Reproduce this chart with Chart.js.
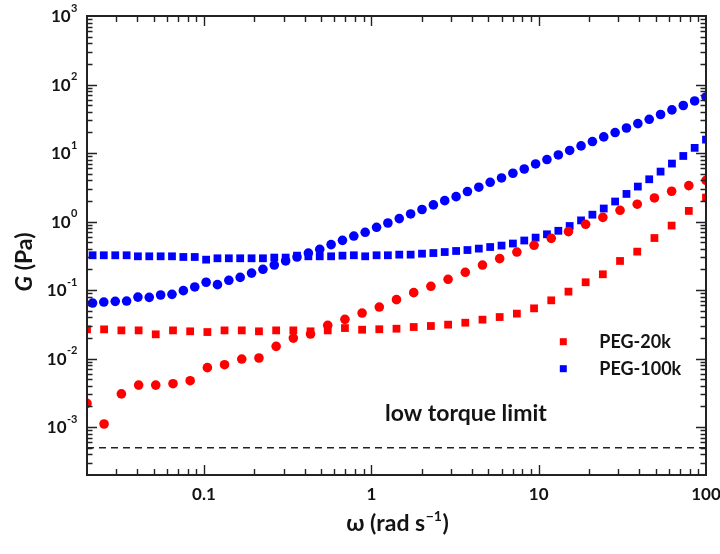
<!DOCTYPE html>
<html>
<head>
<meta charset="utf-8">
<title>PEG rheology</title>
<script src="https://cdn.jsdelivr.net/npm/chart.js@4.4.0/dist/chart.umd.min.js"></script>
<style>
  html, body { margin: 0; padding: 0; background: #fff; }
  #wrap { width: 720px; height: 554px; }
</style>
</head>
<body>
<div id="wrap"><canvas id="c" width="720" height="554"></canvas></div>
<script>
// Angular frequency sweeps (rad/s)
const omega20k = [0.0200, 0.0253, 0.0321, 0.0407, 0.0515, 0.0653, 0.0827, 0.1048, 0.1327, 0.1682,
  0.2131, 0.2700, 0.3420, 0.4333, 0.5490, 0.6956, 0.8810, 1.116, 1.414, 1.792,
  2.270, 2.876, 3.644, 4.617, 5.848, 7.409, 9.387, 11.89, 15.07, 19.09,
  24.18, 30.64, 38.82, 49.18, 62.31, 78.94, 100.0];
const omega100k = [0.0216, 0.0252, 0.0295, 0.0345, 0.0403, 0.0471, 0.0551, 0.0644, 0.0753, 0.0881,
  0.1030, 0.1204, 0.1408, 0.1646, 0.1925, 0.2251, 0.2631, 0.3077, 0.3598, 0.4206,
  0.4918, 0.5751, 0.6724, 0.7862, 0.9191, 1.075, 1.256, 1.469, 1.718, 2.009,
  2.349, 2.746, 3.211, 3.754, 4.389, 5.132, 6.000, 7.016, 8.203, 9.588,
  11.21, 13.11, 15.32, 17.92, 20.95, 24.49, 28.64, 33.48, 39.15, 45.78,
  53.52, 62.58, 73.16, 85.55, 100.0];

// PEG-20k: storage modulus G' (squares) and loss modulus G'' (circles), Pa
const gStorage20k = [0.0267, 0.0267, 0.0258, 0.0258, 0.0226, 0.0258, 0.0250, 0.0244, 0.0258, 0.0258,
  0.0250, 0.0258, 0.0258, 0.0250, 0.0258, 0.0279, 0.0264, 0.0268, 0.0273, 0.0289,
  0.0299, 0.0313, 0.0334, 0.0370, 0.0404, 0.0453, 0.0541, 0.0708, 0.0949, 0.130,
  0.170, 0.266, 0.364, 0.575, 0.873, 1.43, 2.24];
const gLoss20k = [0.00222, 0.00111, 0.00305, 0.0041, 0.0041, 0.0043, 0.00476, 0.00737, 0.00814, 0.00984,
  0.0102, 0.0151, 0.0199, 0.0228, 0.0306, 0.0374, 0.0462, 0.0565, 0.0725, 0.0917,
  0.1135, 0.1435, 0.1816, 0.232, 0.288, 0.359, 0.450, 0.569, 0.714, 0.912,
  1.15, 1.46, 1.79, 2.21, 2.77, 3.35, 4.00];

// PEG-100k: storage modulus G' (squares) and loss modulus G'' (circles), Pa
const gStorage100k = [0.322, 0.322, 0.322, 0.322, 0.311, 0.311, 0.311, 0.311, 0.304, 0.304,
  0.278, 0.291, 0.291, 0.291, 0.291, 0.291, 0.298, 0.298, 0.318, 0.311,
  0.311, 0.311, 0.318, 0.322, 0.311, 0.322, 0.322, 0.329, 0.329, 0.340,
  0.347, 0.359, 0.372, 0.384, 0.403, 0.425, 0.446, 0.478, 0.529, 0.583,
  0.652, 0.733, 0.861, 1.04, 1.26, 1.55, 1.96, 2.53, 3.24, 4.14,
  5.36, 7.02, 9.06, 11.9, 15.7];
const gLoss100k = [0.0647, 0.0669, 0.0685, 0.0692, 0.079, 0.0783, 0.0847, 0.0866, 0.098, 0.111,
  0.130, 0.120, 0.139, 0.153, 0.177, 0.201, 0.232, 0.266, 0.304, 0.347,
  0.394, 0.461, 0.532, 0.615, 0.697, 0.824, 0.953, 1.105, 1.29, 1.50,
  1.75, 2.02, 2.31, 2.74, 3.17, 3.74, 4.33, 5.07, 5.85, 6.93,
  8.03, 9.38, 10.9, 12.7, 14.7, 17.2, 19.9, 23.2, 26.9, 31.1,
  36.5, 42.6, 49.4, 57.6, 65.9];

// Instrument low-torque limit (Pa) across the whole frequency window
const torqueLimitX = [0.02, 100];
const torqueLimitY = [5e-4, 5e-4];

// Axis ranges and labelled ticks
const xRange = [0.02, 100];
const yRange = [2e-4, 1000];
const xTickValues = [0.1, 1, 10, 100];
const yTickExponents = [-3, -2, -1, 0, 1, 2, 3];

const seriesNames = ['PEG-20k', 'PEG-100k'];
const seriesColors = ['#ff0000', '#0000ff'];

const FAMILY = "Lato, 'Noto Sans', 'DejaVu Sans', sans-serif";
const INK = '#141414';
const AXIS = '#222222';

const pts = (xs, ys) => xs.map((v, i) => ({ x: v, y: ys[i] }));

function markerSet(label, xs, ys, color, style) {
  return {
    label: label,
    data: pts(xs, ys),
    showLine: false,
    pointStyle: style,
    pointRadius: style === 'rect' ? 5.5 : 4.8,
    pointHoverRadius: style === 'rect' ? 5.5 : 4.8,
    pointBorderWidth: 0,
    pointBackgroundColor: color,
    backgroundColor: color,
    borderColor: color,
    clip: 0
  };
}

// Frame, inward ticks, axis labels, legend and annotation
const decorations = {
  id: 'decorations',
  afterDraw(chart) {
    const { ctx, chartArea: a, scales: { x, y } } = chart;
    ctx.save();

    // inward tick marks on all four sides
    ctx.strokeStyle = AXIS;
    ctx.lineWidth = 1.4;
    ctx.beginPath();
    for (let e = -2; e <= 2; e++) {
      for (let m = 1; m <= 9; m++) {
        const v = m * Math.pow(10, e);
        if (v <= x.min * 1.001 || v >= x.max * 0.999) continue;
        const px = Math.round(x.getPixelForValue(v)) + 0.5;
        const len = m === 1 ? 10 : 6;
        ctx.moveTo(px, a.bottom); ctx.lineTo(px, a.bottom - len);
        ctx.moveTo(px, a.top); ctx.lineTo(px, a.top + len);
      }
    }
    for (let e = -4; e <= 3; e++) {
      for (let m = 1; m <= 9; m++) {
        const v = m * Math.pow(10, e);
        if (v <= y.min * 1.001 || v >= y.max * 0.999) continue;
        const py = Math.round(y.getPixelForValue(v)) + 0.5;
        const len = m === 1 ? 10 : 5.5;
        ctx.moveTo(a.left, py); ctx.lineTo(a.left + len, py);
        ctx.moveTo(a.right, py); ctx.lineTo(a.right - len, py);
      }
    }
    ctx.stroke();

    // plot frame
    ctx.lineWidth = 2;
    ctx.strokeRect(a.left, a.top, a.right - a.left, a.bottom - a.top);

    ctx.fillStyle = INK;
    ctx.textBaseline = 'alphabetic';

    // y tick labels: 10 with a raised exponent
    const baseFont = 'bold 17px ' + FAMILY;
    const supFont = 'bold 11px ' + FAMILY;
    yTickExponents.forEach(e => {
      const py = y.getPixelForValue(Math.pow(10, e));
      const sup = e < 0 ? '-' + Math.abs(e) : String(e);
      ctx.font = baseFont;
      const wBase = ctx.measureText('10').width;
      ctx.font = supFont;
      const wSup = ctx.measureText(sup).width;
      const x0 = 77.5 - wSup - wBase - 0.5;
      ctx.font = baseFont;
      ctx.textAlign = 'left';
      ctx.fillText('10', x0, py + 6);
      ctx.font = supFont;
      ctx.fillText(sup, x0 + wBase + 0.5, py - 4.5);
    });

    // x tick labels
    ctx.font = 'bold 17px ' + FAMILY;
    ctx.textAlign = 'center';
    xTickValues.forEach(v => {
      const px = x.getPixelForValue(v);
      ctx.fillText(String(v), px, 499.5);
    });

    // x axis title: ω (rad s⁻¹)
    const tFont = 'bold 23px ' + FAMILY;
    const tSup = 'bold 14px ' + FAMILY;
    ctx.textAlign = 'left';
    ctx.font = tFont;
    const p1 = 'ω (rad s', p3 = ')';
    const w1 = ctx.measureText(p1).width, w3 = ctx.measureText(p3).width;
    ctx.font = tSup;
    const p2 = '−1';
    const w2 = ctx.measureText(p2).width;
    const cx = (a.left + a.right) / 2 + 1;
    let tx = cx - (w1 + w2 + w3 + 1) / 2;
    ctx.font = tFont; ctx.fillText(p1, tx, 531); tx += w1 + 0.5;
    ctx.font = tSup; ctx.fillText(p2, tx, 521); tx += w2 + 0.5;
    ctx.font = tFont; ctx.fillText(p3, tx, 531);

    // y axis title: G (Pa), rotated
    ctx.save();
    ctx.translate(31.5, 291.5);
    ctx.rotate(-Math.PI / 2);
    ctx.textAlign = 'left';
    ctx.font = 'italic bold 23px ' + FAMILY;
    ctx.fillText('G', 0, 0);
    const wG = ctx.measureText('G').width;
    ctx.font = 'bold 23px ' + FAMILY;
    ctx.fillText(' (Pa)', wG, 0);
    ctx.restore();

    // legend
    ctx.font = 'bold 18px ' + FAMILY;
    ctx.textAlign = 'left';
    seriesNames.forEach((name, i) => {
      const ly = 341.7 + i * 27;
      ctx.fillStyle = seriesColors[i];
      ctx.fillRect(563.3 - 3.5, ly - 3.5, 7, 7);
      ctx.fillStyle = INK;
      ctx.fillText(name, 599.3, ly + 6.5);
    });

    // annotation above the dashed limit
    ctx.font = 'bold 23px ' + FAMILY;
    ctx.fillText('low torque limit', 385, 420.5);

    ctx.restore();
  }
};

new Chart(document.getElementById('c'), {
  type: 'scatter',
  data: {
    datasets: [
      {
        label: 'low torque limit',
        type: 'line',
        data: pts(torqueLimitX, torqueLimitY),
        borderColor: AXIS,
        borderWidth: 1.3,
        borderDash: [7, 5],
        pointRadius: 0,
        fill: false,
        clip: 0
      },
      markerSet(seriesNames[0] + " G'", omega20k, gStorage20k, seriesColors[0], 'rect'),
      markerSet(seriesNames[0] + " G''", omega20k, gLoss20k, seriesColors[0], 'circle'),
      markerSet(seriesNames[1] + " G'", omega100k, gStorage100k, seriesColors[1], 'rect'),
      markerSet(seriesNames[1] + " G''", omega100k, gLoss100k, seriesColors[1], 'circle')
    ]
  },
  options: {
    responsive: false,
    animation: false,
    devicePixelRatio: 1,
    layout: { padding: { left: 0, right: 14, top: 16, bottom: 0 } },
    plugins: { legend: { display: false }, tooltip: { enabled: false } },
    events: [],
    scales: {
      x: {
        type: 'logarithmic',
        min: xRange[0], max: xRange[1],
        grid: { display: false, drawTicks: false },
        border: { display: false },
        ticks: { display: false },
        afterFit: s => { s.height = 79; }
      },
      y: {
        type: 'logarithmic',
        min: yRange[0], max: yRange[1],
        grid: { display: false, drawTicks: false },
        border: { display: false },
        ticks: { display: false },
        afterFit: s => { s.width = 87; }
      }
    }
  },
  plugins: [decorations]
});
</script>
</body>
</html>
